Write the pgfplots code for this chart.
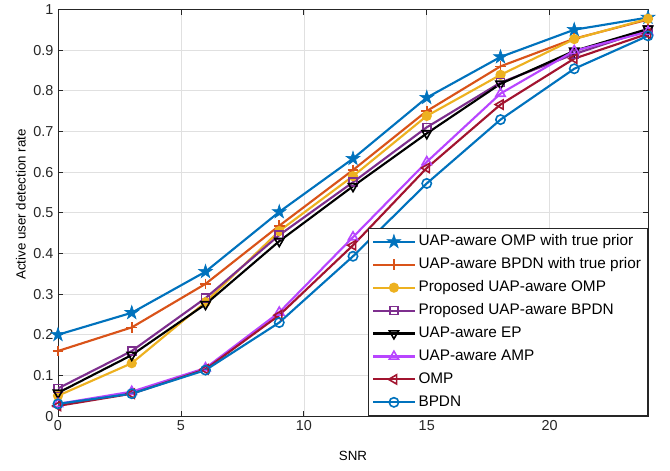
\documentclass[border=0pt]{standalone}
\usepackage{fontspec}
\setmainfont{Liberation Sans}
\usepackage{pgfplots}
\pgfplotsset{compat=1.18}
\usetikzlibrary{calc}
\definecolor{mblue}{rgb}{0,0.447,0.741}
\definecolor{morange}{rgb}{0.85,0.325,0.098}
\definecolor{myellow}{rgb}{0.929,0.694,0.125}
\definecolor{mpurple}{rgb}{0.494,0.184,0.556}
\definecolor{mviolet}{rgb}{0.72,0.27,1.0}
\definecolor{mred}{rgb}{0.635,0.078,0.184}
\definecolor{axgray}{rgb}{0.15,0.15,0.15}
\pgfdeclareplotmark{pentastar}{%
  \pgfpathmoveto{\pgfpointpolar{90}{\pgfplotmarksize}}%
  \pgfpathlineto{\pgfpointpolar{126}{0.382\pgfplotmarksize}}%
  \pgfpathlineto{\pgfpointpolar{162}{\pgfplotmarksize}}%
  \pgfpathlineto{\pgfpointpolar{198}{0.382\pgfplotmarksize}}%
  \pgfpathlineto{\pgfpointpolar{234}{\pgfplotmarksize}}%
  \pgfpathlineto{\pgfpointpolar{270}{0.382\pgfplotmarksize}}%
  \pgfpathlineto{\pgfpointpolar{306}{\pgfplotmarksize}}%
  \pgfpathlineto{\pgfpointpolar{342}{0.382\pgfplotmarksize}}%
  \pgfpathlineto{\pgfpointpolar{18}{\pgfplotmarksize}}%
  \pgfpathlineto{\pgfpointpolar{54}{0.382\pgfplotmarksize}}%
  \pgfpathclose
  \pgfusepathqfillstroke
}
\begin{document}
\begin{tikzpicture}
\begin{axis}[
  scale only axis, width=442.5pt, height=305pt,
  xmin=0, xmax=24, ymin=0, ymax=1,
  xtick={0,5,10,15,20},
  ytick={0,0.1,0.2,0.3,0.4,0.5,0.6,0.7,0.8,0.9,1},
  yticklabels={0,0.1,0.2,0.3,0.4,0.5,0.6,0.7,0.8,0.9,1},
  grid=major,
  major grid style={black!12, line width=0.5pt},
  axis line style={axgray, line width=0.6pt},
  tick style={axgray, line width=0.6pt},
  tick align=inside, major tick length=4pt,
  /pgf/number format/assume math mode=true,
  tick label style={font=\fontsize{10.8}{12}\selectfont, text=axgray},
  xlabel={SNR}, ylabel={Active user detection rate},
  label style={font=\fontsize{11.6}{13}\selectfont, text=axgray},
  every axis x label/.style={at={(axis description cs:0.5,-0.098)}, anchor=center},
  every axis y label/.style={at={(axis description cs:-0.063,0.52)}, rotate=90, anchor=center},
  legend image code/.code={\draw[mark repeat=2,mark phase=2] plot coordinates {(0cm,0cm) (0.55cm,0cm) (1.1cm,0cm)};},
  legend style={at={(1,0)}, anchor=south east, font=\fontsize{11.5}{13}\selectfont,
    draw=axgray, line width=0.6pt, cells={anchor=west},
    nodes={inner sep=2pt, text height=9pt, text depth=3pt},
    row sep=1.2pt},
  every axis plot/.append style={line width=1.6pt},
]
\addplot[mblue, mark=pentastar, mark size=5.5pt, mark options={solid,line width=0.4pt}]
  coordinates {(0,0.200) (3,0.254) (6,0.355) (9,0.502) (12,0.633) (15,0.783) (18,0.883) (21,0.950) (24,0.980)};
\addlegendentry{UAP-aware OMP with true prior}
\addplot[morange, mark=+, mark size=4pt, mark options={solid,line width=1.2pt}]
  coordinates {(0,0.160) (3,0.218) (6,0.325) (9,0.468) (12,0.605) (15,0.750) (18,0.860) (21,0.928) (24,0.975)};
\addlegendentry{UAP-aware BPDN with true prior}
\addplot[myellow, mark=*, mark size=3pt, mark options={solid}]
  coordinates {(0,0.050) (3,0.130) (6,0.280) (9,0.455) (12,0.590) (15,0.738) (18,0.839) (21,0.927) (24,0.977)};
\addlegendentry{Proposed UAP-aware OMP}
\addplot[mpurple, mark=square, mark size=3pt, mark options={solid,line width=1.2pt}]
  coordinates {(0,0.068) (3,0.160) (6,0.290) (9,0.445) (12,0.575) (15,0.710) (18,0.820) (21,0.890) (24,0.950)};
\addlegendentry{Proposed UAP-aware BPDN}
\addplot[black, mark=triangle, mark size=4pt, mark options={solid,rotate=180,line width=1.2pt}]
  coordinates {(0,0.057) (3,0.150) (6,0.275) (9,0.430) (12,0.565) (15,0.695) (18,0.817) (21,0.898) (24,0.952)};
\addlegendentry{UAP-aware EP}
\addplot[mviolet, mark=triangle, mark size=4pt, mark options={solid,line width=1.2pt}]
  coordinates {(0,0.030) (3,0.060) (6,0.118) (9,0.255) (12,0.440) (15,0.625) (18,0.793) (21,0.898) (24,0.945)};
\addlegendentry{UAP-aware AMP}
\addplot[mred, mark=triangle, mark size=4pt, mark options={solid,rotate=90,line width=1.2pt}]
  coordinates {(0,0.025) (3,0.055) (6,0.115) (9,0.248) (12,0.420) (15,0.610) (18,0.766) (21,0.879) (24,0.940)};
\addlegendentry{OMP}
\addplot[mblue, mark=o, mark size=3.5pt, mark options={solid,line width=1.2pt}]
  coordinates {(0,0.030) (3,0.055) (6,0.113) (9,0.230) (12,0.393) (15,0.572) (18,0.729) (21,0.854) (24,0.935)};
\addlegendentry{BPDN}
\end{axis}
\path ($(current axis.south west)+(-43.5pt,-40.5pt)$) rectangle ($(current axis.north east)+(16.5pt,4.5pt)$);
\end{tikzpicture}
\end{document}
